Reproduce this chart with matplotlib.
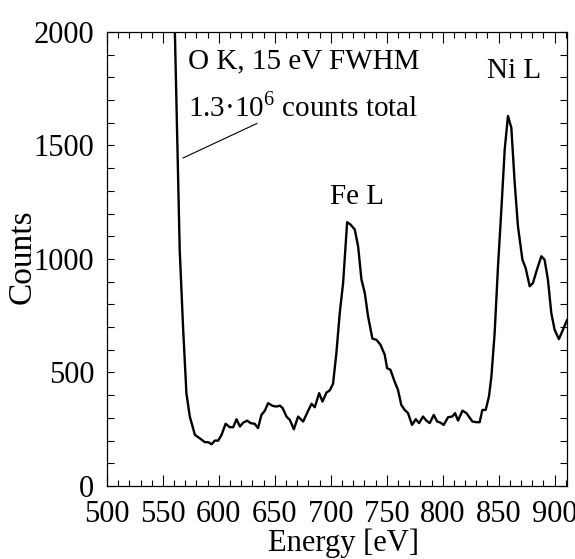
import matplotlib
matplotlib.use("Agg")
import matplotlib.pyplot as plt
from matplotlib.ticker import MultipleLocator

plt.rcParams['font.family'] = ['Liberation Serif', 'DejaVu Serif']
plt.rcParams['mathtext.fontset'] = 'custom'
plt.rcParams['mathtext.rm'] = 'Liberation Serif'

energy = [556, 560.7, 565, 568, 571, 574, 578.6, 583, 587.5, 590.5, 593.5, 596.4, 599.4,
          602.4, 606, 609.8, 612.8, 615.8, 618.8, 621.7, 625.3, 628.3, 632, 635, 638,
          641, 644, 648, 651.5, 654.5, 657, 660.4, 663.4, 667, 670.8, 675.3, 679.8,
          682.8, 685.7, 689.6, 692.6, 696.2, 699, 702, 705, 708, 711, 714.6, 717.6,
          721.4, 724.4, 727.4, 730.4, 733.3, 737.2, 740.8, 744.4, 748.2, 750.3, 753.3,
          757, 760, 763, 766, 769, 772.6, 775.9, 778.9, 782.4, 785.4, 788.4, 792, 795,
          798, 800.9, 804.8, 808.6, 811, 813.7, 817.6, 821.2, 826.5, 830.1, 833, 835.4,
          838.4, 841.3, 843.5, 846.4, 849.4, 852.4, 855.4, 858.3, 861.3, 864.3, 867.2,
          871.2, 874.1, 877.7, 880.6, 884.2, 888.1, 891, 894, 897, 900, 903.8, 907.4, 911]
counts = [2700, 2000, 1041, 700, 409, 306, 225, 210, 193, 193, 184, 200, 200,
          225, 274, 259, 259, 294, 262, 279, 288, 277, 274, 255, 313,
          331, 365, 353, 350, 354, 343, 306, 291, 250, 306, 284, 332,
          362, 347, 409, 372, 412, 421, 450, 586, 762, 894, 1162, 1152,
          1130, 1056, 909, 850, 747, 649, 644, 622, 578, 519, 512,
          460, 424, 357, 335, 321, 269, 294, 277, 306, 288, 277, 313, 284,
          279, 269, 303, 306, 321, 288, 332, 321, 284, 281, 281, 335,
          335, 394, 482, 674, 968, 1218, 1483, 1630, 1578, 1336, 1145,
          997, 960, 880, 894, 953, 1012, 997, 909, 762, 688, 647, 688, 730]

fig = plt.figure(figsize=(5.75, 5.59), dpi=100)
ax = fig.add_axes([0.186, 0.1306, 0.8, 0.8122])
ax.plot(energy, counts, color='black', lw=1.7, clip_on=True)
ax.set_xlim(500, 911)
ax.set_ylim(0, 2000)

ax.xaxis.set_major_locator(MultipleLocator(50))
ax.xaxis.set_minor_locator(MultipleLocator(10))
ax.yaxis.set_major_locator(MultipleLocator(500))
ax.yaxis.set_minor_locator(MultipleLocator(100))
ax.tick_params(axis='both', which='both', direction='in', top=True, right=True,
               labelsize=22, width=0.8)
ax.tick_params(axis='x', which='major', length=8, pad=10)
ax.tick_params(axis='x', which='minor', length=4)
ax.tick_params(axis='y', which='both', length=5, pad=9)
for s in ax.spines.values():
    s.set_linewidth(0.9)

ax.set_xlabel('Energy [eV]', fontsize=22)
ax.set_ylabel('Counts', fontsize=24)
ax.xaxis.set_label_coords(0.515, -0.093)
ax.yaxis.set_label_coords(-0.15, 0.505)

ax.text(572, 1870, 'O K, 15 eV FWHM', fontsize=21, va='center', ha='left')
ax.text(572, 1668, '1.3·10$^{\\mathregular{6}}$ counts total', fontsize=21, va='center', ha='left')
ax.plot([568, 634], [1445, 1597], color='black', lw=0.8)
ax.text(723, 1275, 'Fe L', fontsize=21, ha='center', va='center')
ax.text(863.5, 1827, 'Ni L', fontsize=21, ha='center', va='center')

fig.savefig('out.png', dpi=100)
